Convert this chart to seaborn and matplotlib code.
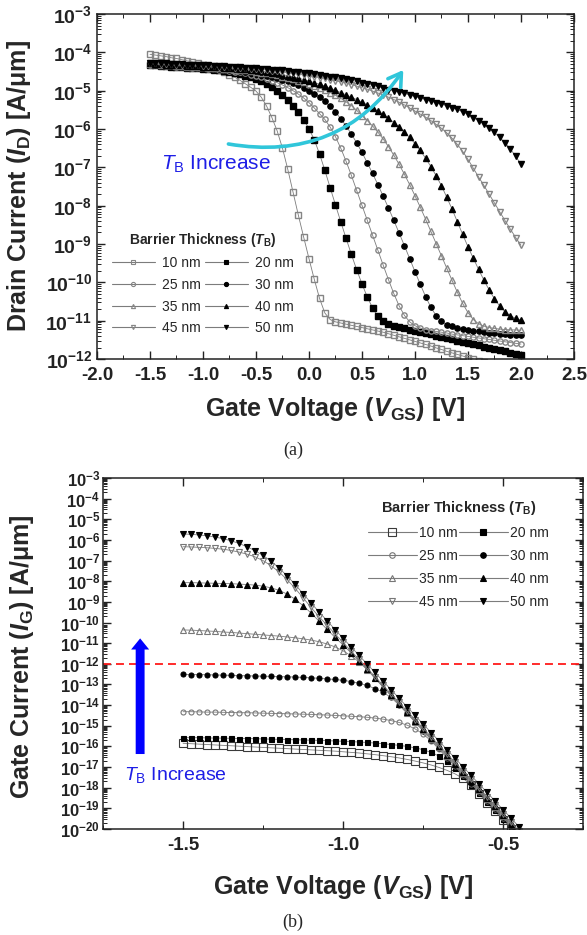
import numpy as np
import matplotlib
matplotlib.use("Agg")
import matplotlib.pyplot as plt
from matplotlib.lines import Line2D
from matplotlib.ticker import LogLocator, MultipleLocator, NullFormatter
import seaborn as sns

# ---------------------------------------------------------------------------
# Data: log10 of current (A/um) versus gate voltage, one list per barrier
# thickness T_B.
# ---------------------------------------------------------------------------
thickness_nm = [10, 20, 25, 30, 35, 40, 45, 50]

# (a) drain current, V_GS = -1.5 ... 2.0 V in 0.05 V steps
vgs_a = np.round(np.linspace(-1.5, 2.0, 71), 2)

id_10nm = [-4.05, -4.07, -4.09, -4.11, -4.14, -4.16, -4.19, -4.22, -4.25, -4.28,
           -4.32, -4.36, -4.40, -4.45, -4.51, -4.58, -4.65, -4.73, -4.82, -4.91,
           -5.01, -5.17, -5.40, -5.70, -6.05, -6.50, -7.05, -7.65, -8.25, -8.82,
           -9.38, -9.92, -10.42, -10.80, -10.97, -11.03, -11.06, -11.09, -11.12, -11.15,
           -11.18, -11.21, -11.24, -11.27, -11.30, -11.34, -11.38, -11.42, -11.46, -11.50,
           -11.54, -11.58, -11.62, -11.66, -11.71, -11.75, -11.80, -11.84, -11.88, -11.92,
           -11.96, -12.00, -12.04, -12.08, -12.12, -12.16, -12.20, -12.24, -12.28, -12.32,
           -12.36]
id_20nm = [-4.33, -4.34, -4.35, -4.36, -4.37, -4.38, -4.39, -4.40, -4.41, -4.42,
           -4.43, -4.44, -4.45, -4.47, -4.49, -4.51, -4.54, -4.57, -4.61, -4.65,
           -4.70, -4.76, -4.83, -4.91, -5.00, -5.11, -5.24, -5.39, -5.56, -5.76,
           -5.99, -6.28, -6.65, -7.08, -7.53, -7.98, -8.42, -8.85, -9.27, -9.67,
           -10.04, -10.38, -10.67, -10.89, -11.02, -11.09, -11.13, -11.16, -11.20, -11.23,
           -11.26, -11.29, -11.32, -11.35, -11.39, -11.42, -11.45, -11.48, -11.52, -11.55,
           -11.58, -11.61, -11.64, -11.68, -11.71, -11.74, -11.77, -11.80, -11.84, -11.87,
           -11.90]
id_25nm = [-4.32, -4.33, -4.34, -4.35, -4.36, -4.37, -4.38, -4.39, -4.40, -4.41,
           -4.42, -4.43, -4.44, -4.45, -4.47, -4.48, -4.50, -4.52, -4.55, -4.58,
           -4.61, -4.65, -4.69, -4.74, -4.79, -4.85, -4.92, -5.00, -5.09, -5.19,
           -5.31, -5.45, -5.60, -5.75, -5.95, -6.20, -6.50, -6.84, -7.21, -7.60,
           -7.99, -8.38, -8.77, -9.16, -9.55, -9.93, -10.29, -10.61, -10.86, -11.03,
           -11.13, -11.19, -11.23, -11.26, -11.28, -11.30, -11.32, -11.35, -11.37, -11.39,
           -11.41, -11.43, -11.45, -11.47, -11.49, -11.51, -11.53, -11.55, -11.57, -11.59,
           -11.61]
id_30nm = [-4.31, -4.32, -4.33, -4.34, -4.35, -4.36, -4.37, -4.38, -4.39, -4.40,
           -4.41, -4.42, -4.43, -4.44, -4.45, -4.46, -4.47, -4.49, -4.51, -4.53,
           -4.55, -4.58, -4.61, -4.64, -4.68, -4.72, -4.76, -4.81, -4.86, -4.93,
           -5.00, -5.08, -5.17, -5.28, -5.41, -5.56, -5.73, -5.92, -6.13, -6.36,
           -6.61, -6.88, -7.16, -7.45, -7.75, -8.06, -8.38, -8.71, -9.04, -9.38,
           -9.72, -10.05, -10.37, -10.65, -10.87, -11.02, -11.10, -11.15, -11.19, -11.22,
           -11.24, -11.26, -11.28, -11.30, -11.31, -11.33, -11.34, -11.35, -11.36, -11.37,
           -11.38]
id_35nm = [-4.30, -4.31, -4.32, -4.33, -4.34, -4.35, -4.36, -4.37, -4.38, -4.38,
           -4.39, -4.40, -4.41, -4.42, -4.43, -4.44, -4.45, -4.46, -4.47, -4.49,
           -4.51, -4.53, -4.55, -4.57, -4.60, -4.63, -4.66, -4.70, -4.74, -4.78,
           -4.83, -4.88, -4.93, -4.99, -5.05, -5.12, -5.20, -5.29, -5.39, -5.51,
           -5.65, -5.78, -5.92, -6.08, -6.26, -6.46, -6.68, -6.92, -7.18, -7.45,
           -7.74, -8.04, -8.35, -8.67, -8.99, -9.31, -9.63, -9.95, -10.26, -10.55,
           -10.79, -10.97, -11.08, -11.14, -11.18, -11.20, -11.22, -11.23, -11.24, -11.24,
           -11.25]
id_40nm = [-4.29, -4.30, -4.31, -4.32, -4.32, -4.33, -4.34, -4.35, -4.35, -4.36,
           -4.37, -4.38, -4.38, -4.39, -4.40, -4.41, -4.42, -4.43, -4.44, -4.45,
           -4.47, -4.49, -4.51, -4.53, -4.55, -4.58, -4.61, -4.64, -4.67, -4.71,
           -4.75, -4.79, -4.83, -4.88, -4.93, -4.99, -5.05, -5.11, -5.17, -5.23,
           -5.30, -5.37, -5.45, -5.53, -5.62, -5.72, -5.83, -5.95, -6.08, -6.22,
           -6.38, -6.56, -6.76, -6.98, -7.22, -7.48, -7.78, -8.09, -8.42, -8.75,
           -9.07, -9.37, -9.66, -9.94, -10.20, -10.43, -10.62, -10.77, -10.87, -10.94,
           -10.99]
id_45nm = [-4.28, -4.29, -4.30, -4.30, -4.31, -4.32, -4.32, -4.33, -4.34, -4.34,
           -4.35, -4.36, -4.36, -4.37, -4.38, -4.39, -4.40, -4.41, -4.42, -4.43,
           -4.44, -4.45, -4.46, -4.48, -4.49, -4.51, -4.53, -4.55, -4.57, -4.59,
           -4.61, -4.63, -4.66, -4.68, -4.71, -4.74, -4.77, -4.80, -4.84, -4.88,
           -4.92, -4.96, -5.01, -5.06, -5.11, -5.17, -5.23, -5.30, -5.37, -5.45,
           -5.53, -5.61, -5.69, -5.78, -5.88, -5.98, -6.10, -6.24, -6.40, -6.58,
           -6.79, -7.02, -7.25, -7.47, -7.70, -7.93, -8.16, -8.39, -8.61, -8.83,
           -9.03]
id_50nm = [-4.27, -4.28, -4.28, -4.29, -4.30, -4.30, -4.31, -4.32, -4.32, -4.33,
           -4.34, -4.34, -4.35, -4.36, -4.36, -4.37, -4.38, -4.39, -4.40, -4.41,
           -4.42, -4.43, -4.44, -4.45, -4.46, -4.47, -4.49, -4.50, -4.52, -4.53,
           -4.55, -4.57, -4.59, -4.61, -4.63, -4.65, -4.68, -4.70, -4.73, -4.76,
           -4.79, -4.82, -4.86, -4.89, -4.93, -4.97, -5.00, -5.03, -5.07, -5.11,
           -5.15, -5.19, -5.23, -5.27, -5.31, -5.35, -5.39, -5.44, -5.49, -5.55,
           -5.62, -5.70, -5.78, -5.88, -5.98, -6.09, -6.22, -6.36, -6.52, -6.71,
           -6.92]

# (b) gate current, V_GS = -1.5 ... -0.425 V in 0.025 V steps
vgs_b = np.round(np.linspace(-1.5, -0.425, 44), 3)

ig_10nm = [-15.85, -15.87, -15.89, -15.91, -15.93, -15.95, -15.97, -15.99, -16.01, -16.03, -16.05,
           -16.07, -16.09, -16.11, -16.13, -16.15, -16.17, -16.19, -16.21, -16.23, -16.26, -16.29,
           -16.32, -16.36, -16.40, -16.45, -16.50, -16.56, -16.63, -16.71, -16.80, -16.90, -17.02,
           -17.16, -17.33, -17.55, -17.86, -18.29, -18.73, -19.15, -19.56, -19.98, -20.39, -20.81]
ig_20nm = [-15.57, -15.58, -15.58, -15.59, -15.60, -15.60, -15.61, -15.62, -15.62, -15.63, -15.64,
           -15.65, -15.66, -15.67, -15.68, -15.69, -15.70, -15.71, -15.72, -15.74, -15.75, -15.77,
           -15.79, -15.81, -15.84, -15.87, -15.91, -15.95, -16.00, -16.07, -16.16, -16.29, -16.47,
           -16.72, -17.03, -17.44, -17.85, -18.27, -18.68, -19.10, -19.51, -19.93, -20.34, -20.76]
ig_25nm = [-14.32, -14.32, -14.33, -14.34, -14.34, -14.35, -14.36, -14.37, -14.37, -14.38, -14.39,
           -14.40, -14.41, -14.42, -14.43, -14.44, -14.45, -14.47, -14.48, -14.50, -14.52, -14.54,
           -14.56, -14.59, -14.63, -14.68, -14.75, -14.84, -14.97, -15.15, -15.40, -15.73, -16.14,
           -16.56, -16.97, -17.39, -17.80, -18.22, -18.63, -19.05, -19.46, -19.88, -20.29, -20.71]
ig_30nm = [-12.51, -12.52, -12.52, -12.53, -12.54, -12.55, -12.56, -12.57, -12.58, -12.59, -12.60,
           -12.61, -12.62, -12.63, -12.64, -12.66, -12.68, -12.70, -12.73, -12.76, -12.80, -12.86,
           -12.94, -13.05, -13.20, -13.38, -13.63, -13.99, -14.40, -14.83, -15.25, -15.67, -16.09,
           -16.51, -16.92, -17.34, -17.75, -18.17, -18.58, -19.00, -19.41, -19.83, -20.24, -20.66]
ig_35nm = [-10.36, -10.37, -10.39, -10.41, -10.43, -10.46, -10.48, -10.51, -10.54, -10.57, -10.60,
           -10.63, -10.66, -10.70, -10.74, -10.79, -10.85, -10.93, -11.04, -11.18, -11.37, -11.61,
           -11.91, -12.28, -12.70, -13.13, -13.55, -13.97, -14.38, -14.80, -15.21, -15.63, -16.04,
           -16.46, -16.87, -17.29, -17.70, -18.12, -18.53, -18.95, -19.36, -19.78, -20.19, -20.61]
ig_40nm = [-8.07, -8.07, -8.08, -8.09, -8.10, -8.11, -8.12, -8.14, -8.16, -8.19, -8.24,
           -8.32, -8.44, -8.62, -8.87, -9.18, -9.54, -9.93, -10.33, -10.72, -11.08, -11.47,
           -11.86, -12.27, -12.68, -13.10, -13.51, -13.93, -14.34, -14.76, -15.17, -15.59, -16.00,
           -16.42, -16.83, -17.25, -17.66, -18.08, -18.49, -18.91, -19.32, -19.74, -20.15, -20.57]
ig_45nm = [-6.33, -6.34, -6.36, -6.38, -6.41, -6.45, -6.51, -6.59, -6.69, -6.82, -7.00,
           -7.25, -7.55, -7.92, -8.34, -8.80, -9.27, -9.72, -10.13, -10.55, -10.96, -11.38,
           -11.79, -12.21, -12.62, -13.04, -13.45, -13.87, -14.28, -14.70, -15.11, -15.53, -15.94,
           -16.36, -16.77, -17.19, -17.60, -18.02, -18.43, -18.85, -19.26, -19.68, -20.09, -20.51]
ig_50nm = [-5.71, -5.73, -5.76, -5.80, -5.86, -5.94, -6.04, -6.17, -6.33, -6.52, -6.75,
           -7.03, -7.36, -7.74, -8.15, -8.60, -9.05, -9.49, -9.91, -10.34, -10.76, -11.18,
           -11.59, -12.01, -12.42, -12.84, -13.25, -13.67, -14.08, -14.50, -14.91, -15.33, -15.74,
           -16.16, -16.57, -16.99, -17.40, -17.82, -18.23, -18.65, -19.06, -19.48, -19.89, -20.31]

xticks_a = [-2.0, -1.5, -1.0, -0.5, 0.0, 0.5, 1.0, 1.5, 2.0, 2.5]
xticks_b = [-1.5, -1.0, -0.5]
decades_a = list(range(-12, -2))
decades_b = list(range(-20, -2))

drain_curves = dict(zip(thickness_nm, [id_10nm, id_20nm, id_25nm, id_30nm,
                                       id_35nm, id_40nm, id_45nm, id_50nm]))
gate_curves = dict(zip(thickness_nm, [ig_10nm, ig_20nm, ig_25nm, ig_30nm,
                                      ig_35nm, ig_40nm, ig_45nm, ig_50nm]))

# ---------------------------------------------------------------------------
# Style
# ---------------------------------------------------------------------------
sns.set_theme(style="ticks")
plt.rcParams["font.family"] = ["Liberation Sans", "DejaVu Sans"]
plt.rcParams.update({
    "mathtext.fontset": "custom",
    "mathtext.rm": "Liberation Sans",
    "mathtext.it": "Liberation Sans:italic",
    "mathtext.bf": "Liberation Sans:bold",
    "mathtext.bfit": "Liberation Sans:italic:bold",
    "mathtext.sf": "Liberation Sans",
    "axes.unicode_minus": False,
})

LINE_GRAY = "#7c7c7c"
MARKERS = {10: ("s", False), 20: ("s", True), 25: ("o", False), 30: ("o", True),
           35: ("^", False), 40: ("^", True), 45: ("v", False), 50: ("v", True)}
LEGEND_ORDER = [10, 25, 35, 45, 20, 30, 40, 50]


def marker_kw(tb, size, open_edge, mew=0.8):
    marker, filled = MARKERS[tb]
    return dict(marker=marker, markersize=size,
                markerfacecolor="black" if filled else "none",
                markeredgecolor="black" if filled else open_edge,
                markeredgewidth=mew)


def draw_family(ax, vgs, curves, sizes, open_edges, mew):
    for tb, logi in curves.items():
        sns.lineplot(x=vgs, y=np.power(10.0, np.asarray(logi)), ax=ax,
                     estimator=None, sort=False, legend=False,
                     color=LINE_GRAY, linewidth=0.6,
                     **marker_kw(tb, sizes[tb], open_edges[tb], mew))


def style_axes(ax, xlim, ylim, xticks, decades, xfs, yfs, ypad):
    ax.set_yscale("log")
    ax.set_xlim(*xlim)
    ax.set_ylim(*ylim)
    ax.set_xticks(xticks)
    ax.set_xticklabels([f"{v:.1f}" for v in xticks], fontweight="bold", fontsize=xfs)
    ax.xaxis.set_minor_locator(MultipleLocator(0.25))
    ax.set_yticks([10.0 ** e for e in decades])
    ax.set_yticklabels([r"$\mathbf{10^{%d}}$" % e for e in decades], fontsize=yfs)
    ax.yaxis.set_minor_locator(LogLocator(base=10, subs=np.arange(2, 10), numticks=200))
    ax.yaxis.set_minor_formatter(NullFormatter())
    ax.tick_params(which="both", direction="in", top=True, right=True, colors="#222222")
    ax.tick_params(which="major", length=6, width=1.0)
    ax.tick_params(which="minor", length=3, width=0.7)
    ax.tick_params(axis="x", pad=6)
    ax.tick_params(axis="y", pad=ypad)
    for s in ax.spines.values():
        s.set_linewidth(1.1)
        s.set_color("#222222")


def family_legend(ax, anchor, sizes, open_edges, title_fs, hl, htp, cs, ls):
    handles = [Line2D([], [], color=LINE_GRAY, lw=0.8,
                      **marker_kw(tb, sizes[tb], open_edges[tb]))
               for tb in LEGEND_ORDER]
    labels = [f"{tb} nm" for tb in LEGEND_ORDER]
    leg = ax.legend(handles, labels, ncol=2, loc="upper left", bbox_to_anchor=anchor,
                    frameon=False, fontsize=10, borderpad=0, borderaxespad=0,
                    handlelength=hl, handletextpad=htp, columnspacing=cs,
                    labelspacing=ls,
                    title=r"Barrier Thickness ($\mathbfit{T}_\mathbf{B}$)",
                    title_fontproperties={"weight": "bold", "size": title_fs})
    return leg


fig = plt.figure(figsize=(5.87, 9.35), dpi=100)
ax_a = fig.add_axes([0.1652, 0.6160, 0.8126, 0.369])
ax_b = fig.add_axes([0.1755, 0.1134, 0.8177, 0.3754])

# ---------------- (a) drain current ----------------
sizes_a = {tb: 3.8 for tb in thickness_nm}
edges_a = {tb: "#858585" for tb in thickness_nm}
draw_family(ax_a, vgs_a, drain_curves, sizes_a, edges_a, 1.0)
style_axes(ax_a, (-2.0, 2.5), (1e-12, 1e-3), xticks_a, decades_a, 13.5, 14, 3.5)

ax_a.set_xlabel(r"Gate Voltage ($\mathbfit{V}_\mathbf{GS}$) [V]", fontsize=18,
                fontweight="bold")
ax_a.xaxis.set_label_coords(0.5, -0.105)
ax_a.set_ylabel(r"Drain Current ($\mathbfit{I}_\mathbf{D}$) [A/μm]", fontsize=18,
                fontweight="bold")
ax_a.yaxis.set_label_coords(-0.135, 0.5)

ax_a.annotate("", xy=(0.89, 10 ** -4.46), xytext=(-0.76, 10 ** -6.39),
              arrowprops=dict(arrowstyle="->,head_length=0.45,head_width=0.28",
                              mutation_scale=20, color="#30c6da", lw=2.6,
                              connectionstyle="arc3,rad=0.32", shrinkA=0, shrinkB=0))
ax_a.text(-1.40, 10 ** -6.92, r"$\mathit{T}_\mathrm{B}$ Increase", color="#1e1ee6",
          fontsize=15, ha="left", va="center")
family_legend(ax_a, (0.031, 0.372), {tb: 3.0 for tb in thickness_nm}, edges_a,
              10, 3.1, 0.5, 0.3, 0.55)

# ---------------- (b) gate current ----------------
sizes_b = {10: 5.5, 20: 3.6, 25: 3.6, 30: 3.6, 35: 4.3, 40: 4.3, 45: 4.3, 50: 4.3}
edges_b = {10: "#3a3a3a", 20: "black", 25: "#777777", 30: "black",
           35: "#777777", 40: "black", 45: "#777777", 50: "black"}
ax_b.axhline(1e-12, color="#ff1a1a", lw=1.3, ls=(0, (4.4, 2.8)), zorder=1.5)
draw_family(ax_b, vgs_b, gate_curves, sizes_b, edges_b, 0.8)
style_axes(ax_b, (-1.75, -0.25), (1e-20, 1e-3), xticks_b, decades_b, 13.5, 12, 2)

ax_b.set_xlabel(r"Gate Voltage ($\mathbfit{V}_\mathbf{GS}$) [V]", fontsize=18,
                fontweight="bold")
ax_b.xaxis.set_label_coords(0.5, -0.125)
ax_b.set_ylabel(r"Gate Current ($\mathbfit{I}_\mathbf{G}$) [A/μm]", fontsize=18,
                fontweight="bold")
ax_b.yaxis.set_label_coords(-0.14, 0.49)

ax_b.annotate("", xy=(-1.634, 10 ** -10.77), xytext=(-1.634, 10 ** -16.37),
              arrowprops=dict(arrowstyle="simple,head_length=0.4,head_width=0.65,tail_width=0.32",
                              mutation_scale=20, fc="#0000ff", ec="none",
                              shrinkA=0, shrinkB=0))
ax_b.text(-1.684, 10 ** -17.41, r"$\mathit{T}_\mathrm{B}$ Increase", color="#1e1ee6",
          fontsize=14, ha="left", va="center")
family_legend(ax_b, (0.552, 0.94),
              {10: 6.0, 20: 4.0, 25: 4.0, 30: 4.0, 35: 4.5, 40: 4.5, 45: 4.5, 50: 4.5},
              edges_b, 10.5, 3.5, 0.2, 0.05, 0.65)

# panel captions
fig.text(0.499, 1 - 450 / 935, "(a)", ha="center", va="center",
         family="Liberation Serif", fontsize=13)
fig.text(0.499, 1 - 922 / 935, "(b)", ha="center", va="center",
         family="Liberation Serif", fontsize=13)

fig.savefig("out.png", dpi=100)
